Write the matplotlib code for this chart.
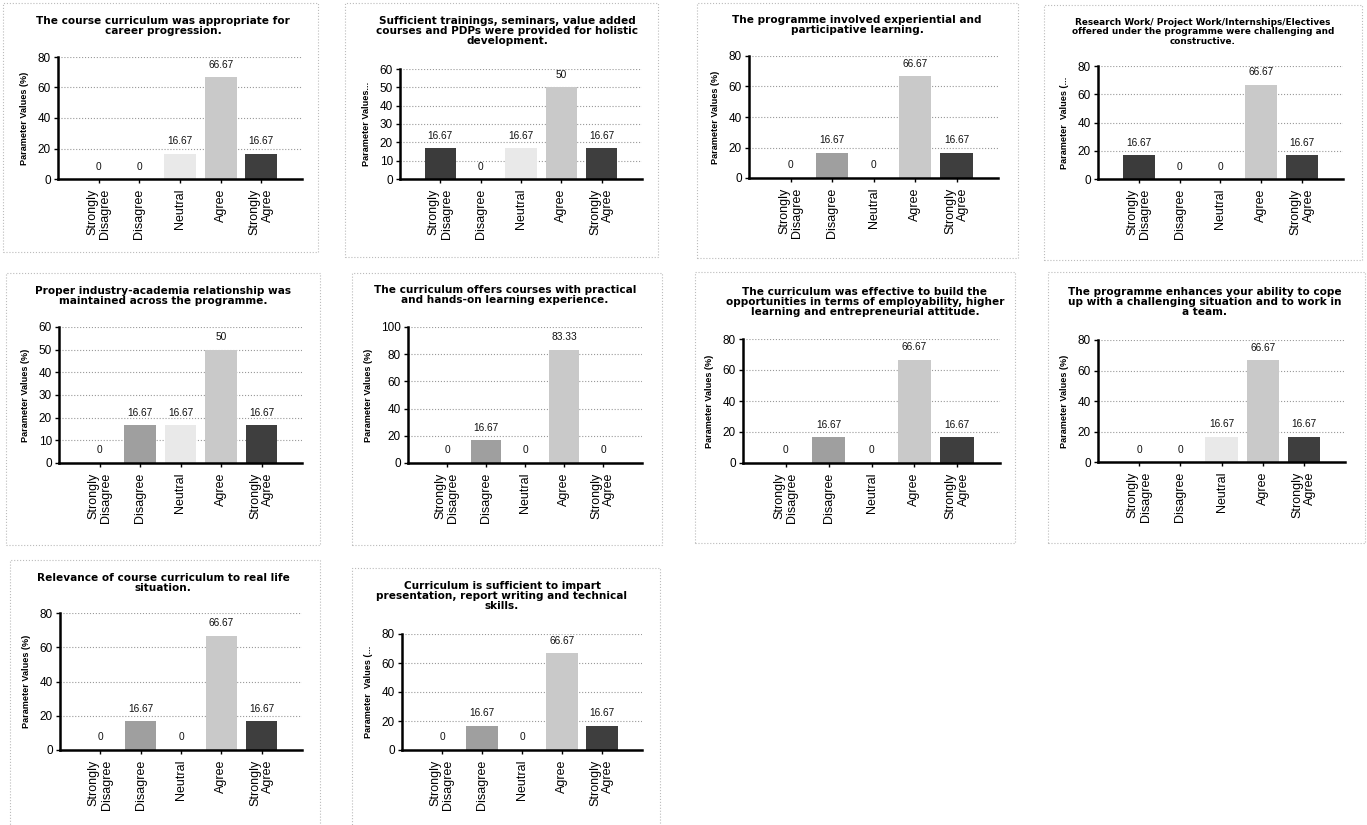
import numpy as np
import matplotlib
matplotlib.use("Agg")
import matplotlib.pyplot as plt
from matplotlib.patches import Rectangle

# ---- data ----
categories = ["Strongly\nDisagree", "Disagree", "Neutral", "Agree", "Strongly\nAgree"]
bar_colors = ["#3b3b3b", "#9f9f9f", "#e9e9e9", "#c9c9c9", "#3e3e3e"]

titles = [
    "The course curriculum was appropriate for\ncareer progression.",
    "Sufficient trainings, seminars, value added\ncourses and PDPs were provided for holistic\ndevelopment.",
    "The programme involved experiential and\nparticipative learning.",
    "Research Work/ Project Work/Internships/Electives\noffered under the programme were challenging and\nconstructive.",
    "Proper industry-academia relationship was\nmaintained across the programme.",
    "The curriculum offers courses with practical\nand hands-on learning experience.",
    "The curriculum was effective to build the\nopportunities in terms of employability, higher\nlearning and entrepreneurial attitude.",
    "The programme enhances your ability to cope\nup with a challenging situation and to work in\na team.",
    "Relevance of course curriculum to real life\nsituation.",
    "Curriculum is sufficient to impart\npresentation, report writing and technical\nskills.",
]

ylabels = [
    "Parameter Values (%)", "Parameter Values...", "Parameter Values (%)",
    "Parameter  Values (...", "Parameter Values (%)", "Parameter Values (%)",
    "Parameter Values (%)", "Parameter Values (%)", "Parameter Values (%)",
    "Parameter  Values (...",
]

values = [
    [0, 0, 16.67, 66.67, 16.67],
    [16.67, 0, 16.67, 50, 16.67],
    [0, 16.67, 0, 66.67, 16.67],
    [16.67, 0, 0, 66.67, 16.67],
    [0, 16.67, 16.67, 50, 16.67],
    [0, 16.67, 0, 83.33, 0],
    [0, 16.67, 0, 66.67, 16.67],
    [0, 0, 16.67, 66.67, 16.67],
    [0, 16.67, 0, 66.67, 16.67],
    [0, 16.67, 0, 66.67, 16.67],
]

y_max = [80, 60, 80, 80, 60, 100, 80, 80, 80, 80]
y_step = [20, 10, 20, 20, 10, 20, 20, 20, 20, 20]

# ---- layout (pixels, origin top-left) ----
W, H = 1367, 825
# axes: left, top, right, bottom ; title: center x, center y ; box: l, t, r, b
axes_px = [
    (58, 57, 302, 179), (400, 69, 642, 179), (749, 56, 998, 178), (1098, 66, 1343, 179),
    (59, 327, 302, 463), (408, 327, 642, 463), (743, 339, 1000, 463), (1098, 340, 1345, 462),
    (60, 613, 302, 750), (402, 634, 642, 750),
]
title_px = [
    (163, 26), (507, 31), (857, 25), (1203, 32),
    (163, 296), (505, 295), (865, 302), (1205, 302),
    (163, 583), (502, 596),
]
title_size = [7.6, 7.6, 7.6, 6.4, 7.6, 7.6, 7.6, 7.6, 7.6, 7.6]
box_px = [
    (3, 3, 318, 252), (345, 3, 658, 257), (697, 3, 1018, 258), (1044, 5, 1362, 260),
    (6, 273, 320, 545), (352, 273, 662, 545), (695, 272, 1015, 543), (1048, 272, 1365, 543),
    (10, 560, 320, 830), (352, 568, 660, 830),
]

fig = plt.figure(figsize=(W / 100, H / 100), dpi=100)
fig.patch.set_facecolor("white")


def frac_rect(l, t, r, b):
    return [l / W, 1 - b / H, (r - l) / W, (b - t) / H]


for i in range(len(values)):
    l, t, r, b = box_px[i]
    fig.patches.append(Rectangle((l / W, 1 - b / H), (r - l) / W, (b - t) / H,
                                 transform=fig.transFigure, fill=False,
                                 edgecolor="#bbbbbb", linestyle=":", linewidth=0.8))

    ax = fig.add_axes(frac_rect(*axes_px[i]))
    x = np.arange(len(categories))
    ax.bar(x, values[i], width=0.78, color=bar_colors, zorder=3)
    for xi, v in zip(x, values[i]):
        ax.annotate(f"{v:g}", (xi, v), xytext=(0, 9), textcoords="offset points",
                    ha="center", va="center", fontsize=7.3, family="Liberation Sans",
                    color="#111111", zorder=4)

    ax.set_xlim(-1, 5)
    ax.set_ylim(0, y_max[i])
    ax.set_yticks(np.arange(0, y_max[i] + 1, y_step[i]))
    ax.set_xticks(x)
    ax.set_xticklabels(categories, rotation=90, ha="center", va="top",
                       multialignment="right", family="Liberation Sans",
                       fontsize=9, linespacing=1.1)
    ax.tick_params(axis="y", labelsize=8.5, length=3, width=1, pad=2)
    ax.tick_params(axis="x", length=3, width=1, pad=4)
    for lab in ax.get_yticklabels():
        lab.set_family("Liberation Sans")

    ax.yaxis.grid(True, linestyle=":", color="#999999", linewidth=0.8, zorder=0)
    ax.set_axisbelow(True)
    for s in ["top", "right"]:
        ax.spines[s].set_visible(False)
    for s in ["left", "bottom"]:
        ax.spines[s].set_linewidth(1.8)
        ax.spines[s].set_color("black")
        ax.spines[s].set_zorder(5)

    ax.set_ylabel(ylabels[i], fontsize=6.6, fontweight="bold", family="Liberation Sans",
                  labelpad=6)

    tx, ty = title_px[i]
    fig.text(tx / W, 1 - ty / H, titles[i], ha="center", va="center",
             fontsize=title_size[i], fontweight="bold", family="DejaVu Sans",
             linespacing=1.05)

fig.savefig("out.png", dpi=100, facecolor="white")
